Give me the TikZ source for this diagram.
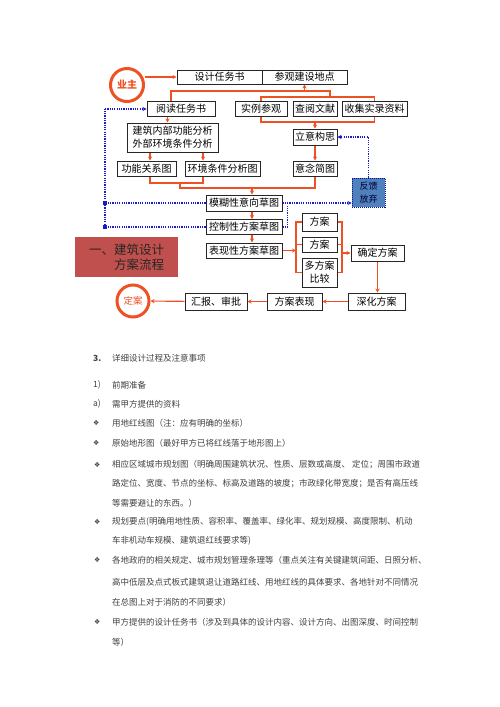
\documentclass[tikz,border=0pt]{standalone}
\usepackage{fontspec}
\setmainfont{Noto Sans CJK SC}
\newfontfamily\symfont{DejaVu Sans}
\usepackage{xcolor}
\usepackage{tikz}
\usetikzlibrary{arrows.meta, positioning}

\definecolor{flowred}{RGB}{238,82,36}
\definecolor{fbblue}{RGB}{25,25,205}
\definecolor{fbfill}{RGB}{79,129,189}
\definecolor{titlered}{RGB}{192,80,77}
\definecolor{bodygray}{RGB}{64,64,64}

\tikzset{
	flowbox/.style={draw=black!85, line width=1pt, fill=white, inner sep=0pt, minimum height=15pt, font=\fontsize{10}{13}\selectfont},
	flow/.style={draw=flowred, line width=1.1pt},
	flowarr/.style={flow, -{Stealth[length=4pt, width=4pt]}},
	fb/.style={draw=fbblue, line width=1.2pt, dash pattern=on 1.2pt off 1.1pt},
	fbarr/.style={fb, -{Stealth[length=4pt, width=4pt]}},
	endcircle/.style={circle, draw=flowred, line width=3pt, fill=white, text=flowred, inner sep=0pt},
	bodytext/.style={anchor=west, inner sep=0pt, text=bodygray, font=\fontsize{8.5}{10}\selectfont},
	bullet/.style={anchor=west, inner sep=0pt, text=bodygray, font=\symfont\fontsize{7}{8}\selectfont},
}

\begin{document}
\begin{tikzpicture}[x=1pt, y=-1pt]
				\useasboundingbox (0,0) rectangle (500,707);
				% Boxes of the flow chart:
				\node[endcircle, minimum size=33pt, font=\fontsize{10}{12}\selectfont\bfseries] (yezhu) at (127,85) {业主};
				\node[flowbox, minimum width=85pt, minimum height=14pt] (rwsh) at (219.5,77) {设计任务书};
				\node[flowbox, minimum width=85pt, minimum height=14pt] (cgdd) at (304.5,77) {参观建设地点};
				\node[flowbox, minimum width=68pt] (ydrw) at (181,109) {阅读任务书};
				\node[flowbox, minimum width=52pt] (slcg) at (261,108.5) {实例参观};
				\node[flowbox, minimum width=44pt] (cywx) at (315,108.5) {查阅文献};
				\node[flowbox, minimum width=65pt] (sjzl) at (374.5,108.5) {收集实录资料};
				\node[flowbox, minimum width=91pt, minimum height=29pt, align=left] (gnfx) at (172.5,137.5) {建筑内部功能分析\\外部环境条件分析};
				\node[flowbox, minimum width=59pt] (gngx) at (146.5,168.5) {功能关系图};
				\node[flowbox, minimum width=75pt] (hjfx) at (222.5,168.5) {环境条件分析图};
				\node[flowbox, minimum width=44pt, minimum height=16pt] (lygs) at (315,137) {立意构思};
				\node[flowbox, minimum width=44pt] (ynjt) at (315,168.5) {意念简图};
				\node[fill=fbfill, draw=fbblue!70!black, line width=0.8pt, dash pattern=on 1pt off 1pt, minimum width=33pt, minimum height=29pt, inner sep=0pt, align=center, text=black!80!blue, font=\fontsize{9}{13}\selectfont] (fkfq) at (368.5,192.5) {反馈\\放弃};
				\node[flowbox, minimum width=76pt, minimum height=16pt] (mhcx) at (244,203) {模糊性意向草图};
				\node[flowbox, minimum width=76pt] (kzfa) at (244,227) {控制性方案草图};
				\node[flowbox, minimum width=76pt] (bxfa) at (244,250.5) {表现性方案草图};
				\node[flowbox, minimum width=35pt, minimum height=18pt] (fa1) at (319.5,222) {方案};
				\node[flowbox, minimum width=35pt] (fa2) at (319.5,244.5) {方案};
				\node[flowbox, minimum width=35pt, minimum height=29pt, align=center] (fa3) at (319.5,272.5) {多方案\\比较};
				\node[flowbox, minimum width=53pt, minimum height=16pt] (qdfa) at (377.5,253) {确定方案};
				\node[flowbox, minimum width=57pt, minimum height=17pt] (shfa) at (376.5,301.5) {深化方案};
				\node[flowbox, minimum width=55pt, minimum height=17pt] (fabx) at (294.5,301.5) {方案表现};
				\node[flowbox, minimum width=62pt, minimum height=17pt] (hbsp) at (216,301.5) {汇报、审批};
				\node[endcircle, minimum size=32pt, font=\fontsize{9.5}{11}\selectfont] (dingan) at (133,301) {定案};
				\node[fill=titlered, minimum width=103pt, minimum height=40pt, inner sep=0pt, align=left, text=black!85, font=\fontsize{12.5}{15}\selectfont] (title) at (126.5,257) {一、建筑设计\\\hspace*{2em}方案流程};

				% Red wires:
				\coordinate (bar1l) at (171,91);
				\coordinate (bar1r) at (330,91);
				\coordinate (bar2) at (330,97);
				\coordinate (bar3) at (315,122);
				\coordinate (bar4) at (180,183);
				\coordinate (bar5) at (180,188);
				\coordinate (lbk) at (296,250);
				\coordinate (rbk) at (342,253);
				\coordinate (a1) at ([xshift=-5pt]gnfx.north);
				\coordinate (a2) at ([xshift=3.5pt]gngx.north);
				\coordinate (a3) at ([xshift=-19.5pt]hjfx.north);
				\coordinate (a4) at ([xshift=8pt]mhcx.north);
				\draw[flowarr] (yezhu.east |- rwsh.west) -- (rwsh.west);
				\draw[flow] (ydrw.north -| bar1l) -- (bar1l) -- (bar1r) -- (bar2);
				\draw[flowarr] (cgdd.south |- bar1l) -- (cgdd.south);
				\draw[flow] (slcg.north) |- (bar2) -| (sjzl.north);
				\draw[flow] (slcg.south) |- (bar3) -| (sjzl.south);
				\draw[flowarr] (bar3) -- (lygs.north);
				\draw[flowarr] (lygs) -- (ynjt);
				\draw[flowarr] (a1 |- ydrw.south) -- (a1);
				\draw[flowarr] (a2 |- gnfx.south) -- (a2);
				\draw[flowarr] (a3 |- gnfx.south) -- (a3);
				\draw[flow] (a2 |- gngx.south) |- (bar4) -| (a3 |- hjfx.south);
				\draw[flow] (bar4) -- (bar5) -| (ynjt.south);
				\draw[flowarr] (a4 |- bar5) -- (a4);
				\draw[flowarr] ([xshift=8pt]mhcx.south) -- ([xshift=8pt]kzfa.north);
				\draw[flowarr] ([xshift=8pt]kzfa.south) -- ([xshift=8pt]bxfa.north);
				\draw[flowarr] (bxfa.east) -- (bxfa.east -| lbk);
				\draw[flow] (fa1.west) -| (lbk) |- (fa3.west);
				\draw[flow] (fa2.west) -- (fa2.west -| lbk);
				\draw[flow] (fa1.east) -| (rbk) |- (fa3.east);
				\draw[flow] (fa2.east) -- (fa2.east -| rbk);
				\draw[flowarr] (rbk) -- (qdfa.west);
				\draw[flowarr] (qdfa.south) -- (qdfa.south |- shfa.north);
				\draw[flowarr] (shfa) -- (fabx);
				\draw[flowarr] (fabx) -- (hbsp);
				\draw[flowarr] (hbsp) -- (dingan);

				% Blue feedback wires:
				\coordinate (fb1) at (105,109);
				\coordinate (fb2) at (105,203);
				\coordinate (fb3) at (105,227);
				\draw[fb] (fb3) -- (fb1);
				\draw[fbarr] (fb1) -- (ydrw.west);
				\draw[fb] (mhcx.west) -- (fb2);
				\draw[fb] (kzfa.west) -- (fb3);
				\fill[fbblue] (fb2) +(-1.8,-1.8) rectangle +(1.8,1.8);
				\fill[fbblue] (fb3) +(-1.8,-1.8) rectangle +(1.8,1.8);
				\draw[fbarr] (mhcx.east) -- (fkfq.west |- mhcx.east);
				\draw[fb] (kzfa.east) -| ([xshift=5pt]mhcx.east);
				\draw[fbarr] (fkfq.north) |- (lygs.east);

				% Text below:
				\node[bodytext, font=\fontsize{8.5}{10}\selectfont\bfseries] (sec3) at (93,358) {3.};
				\node[bodytext] (sec3t) at (112,358) {详细设计过程及注意事项};
				\node[bodytext] (itm1) at (93,385) {1)};
				\node[bodytext] (itm1t) at (112,385) {前期准备};
				\node[bodytext] (itma) at (93,404) {a)};
				\node[bodytext] (itmat) at (112,404) {需甲方提供的资料};
				\node[bullet] (bu1) at (93,423) {❖};
				\node[bodytext] (ln1) at (112,423) {用地红线图（注：应有明确的坐标）};
				\node[bullet] (bu2) at (93,443) {❖};
				\node[bodytext] (ln2) at (112,443) {原始地形图（最好甲方已将红线落于地形图上）};
				\node[bullet] (bu3) at (94,465) {❖};
				\node[bodytext] (ln3) at (112,465) {相应区域城市规划图（明确周围建筑状况、性质、层数或高度、 定位；周围市政道};
				\node[bodytext] (ln4) at (112,484) {路定位、宽度、节点的坐标、标高及道路的坡度；市政绿化带宽度；是否有高压线};
				\node[bodytext] (ln5) at (112,503) {等需要避让的东西。）};
				\node[bullet] (bu4) at (94,522) {❖};
				\node[bodytext] (ln6) at (112,522) {规划要点(明确用地性质、容积率、覆盖率、绿化率、规划规模、高度限制、机动};
				\node[bodytext] (ln7) at (112,541) {车非机动车规模、建筑退红线要求等)};
				\node[bullet] (bu5) at (94,560) {❖};
				\node[bodytext] (ln8) at (112,560) {各地政府的相关规定、城市规划管理条理等（重点关注有关键建筑间距、日照分析、};
				\node[bodytext] (ln9) at (112,582) {高中低层及点式板式建筑退让道路红线、用地红线的具体要求、各地针对不同情况};
				\node[bodytext] (ln10) at (112,602) {在总图上对于消防的不同要求）};
				\node[bullet] (bu6) at (94,622) {❖};
				\node[bodytext] (ln11) at (112,622) {甲方提供的设计任务书（涉及到具体的设计内容、设计方向、出图深度、时间控制};
				\node[bodytext] (ln12) at (112,642) {等）};
			\end{tikzpicture}
\end{document}
